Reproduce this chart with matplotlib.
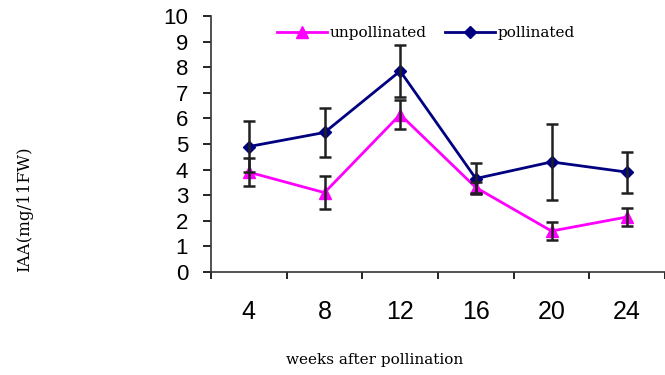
import numpy as np
import matplotlib
matplotlib.use('Agg')
import matplotlib.pyplot as plt

# data
weeks = ['4', '8', '12', '16', '20', '24']
unpollinated = [3.9, 3.1, 6.15, 3.3, 1.6, 2.15]
unpollinated_err = [0.55, 0.65, 0.57, 0.2, 0.35, 0.35]
pollinated = [4.9, 5.45, 7.85, 3.65, 4.3, 3.9]
pollinated_err = [1.0, 0.95, 1.0, 0.6, 1.5, 0.8]

fig = plt.figure(figsize=(6.65, 3.75), dpi=100)
ax = fig.add_axes([211/665, 1-272/375, 1-211/665, (272-16)/375])

x = np.arange(len(weeks))
ax.plot(x, unpollinated, color='#FF00FF', lw=2, marker='^', ms=8, label='unpollinated', zorder=3)
ax.plot(x, pollinated, color='#000080', lw=2, marker='D', ms=6, label='pollinated', zorder=3)
ax.errorbar(x, unpollinated, yerr=unpollinated_err, fmt='none', ecolor='#202020', elinewidth=1.8, capsize=4, capthick=1.8, zorder=4)
ax.errorbar(x, pollinated, yerr=pollinated_err, fmt='none', ecolor='#202020', elinewidth=1.8, capsize=4, capthick=1.8, zorder=4)

ax.set_xlim(-0.5, 454/77 - 0.5)
ax.set_ylim(0, 10)
ax.set_yticks(range(11))
ax.set_xticks(x)
ax.set_xticklabels(weeks, family='Liberation Sans', fontsize=18)
ax.set_yticklabels([str(v) for v in range(11)], family='Liberation Sans', fontsize=16)
ax.set_xticks(np.arange(-0.5, 6, 1), minor=True)
ax.tick_params(axis='x', which='major', length=0, pad=20)
ax.tick_params(axis='x', which='minor', length=5, width=1.2, direction='out')
ax.tick_params(axis='y', length=6, width=1.2, pad=10.5)
for s in ['top', 'right']:
    ax.spines[s].set_visible(False)
for s in ['left', 'bottom']:
    ax.spines[s].set_linewidth(1.2)
    ax.spines[s].set_color('#333333')

fig.text(375/665, 1-360/375, 'weeks after pollination', family='DejaVu Serif', fontsize=11, ha='center', va='center')
fig.text(25/665, 1-209/375, 'IAA(mg/11FW)', family='DejaVu Serif', fontsize=12, ha='center', va='center', rotation=90)

leg = fig.legend(loc='center', bbox_to_anchor=(426/665, 1-33/375), ncol=2, frameon=True,
                 prop={'family': 'DejaVu Serif', 'size': 11}, handlelength=3.3,
                 handletextpad=0.15, columnspacing=1.2, borderpad=0.1, fancybox=False)
leg.get_frame().set_edgecolor('white')
leg.get_frame().set_facecolor('white')
leg.get_frame().set_alpha(1)
leg.set_zorder(10)

fig.savefig('out.png', dpi=100)
